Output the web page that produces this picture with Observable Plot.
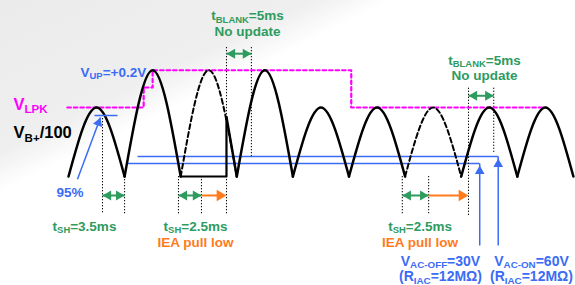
<!DOCTYPE html>
<html><head><meta charset="utf-8">
<script src="https://cdn.jsdelivr.net/npm/d3@7"></script>
<script src="https://cdn.jsdelivr.net/npm/@observablehq/plot@0.6"></script>
<style>
html,body{margin:0;padding:0;background:#fff;}
#chart{width:575px;height:285px;}
</style></head><body><div id="chart"></div>
<script>
// ---------------- data (time in ms, level relative to the low-line peak) ----------------
const halfCycleMs = 10;
const archPeak = [1.00, 1.54, 1.54, 1.54, 1.00, 1.00, 1.00, 1.00, 1.00]; // rectified half cycles of V_B+/100
const maskedArch = [2, 6];                      // half cycles hidden by IEA pull-low (dashed)
const clampTime = [20, 28.16, 28.16];           // pulled-low waveform
const clampLevel = [0, 0, 0.86];
const releaseTime = [28.16, 30];
const releaseLevel = [0.86, 0];
const vlpkTime = [-0.2, 13.4, 15.0, 50.4, 85.0]; // V_LPK staircase
const vlpkLevel = [1.00, 1.29, 1.54, 1.00, 1.00];
const sampleTime = [6.06];                      // 95 % sample point
const sampleLevel = [0.884];
const tsh35 = [6.06, 10.0];
const tsh25a = [19.6, 23.7];
const pullLowA = [23.7, 28.16];
const blankA = [28.16, 32.6];
const tsh25b = [59.5, 64.2];
const pullLowB = [64.2, 71.3];
const blankB = [71.3, 75.8];
const vacName = ["AC-OFF", "AC-ON"];
const vacVolts = [30, 60];
const vacLevel = [0.188, 0.29];
const vacStart = [10.5, 12.3];
const vacEnd = [73.3, 76.6];

// ---------------- styling ----------------
const GREEN = "#2e9b5f", ORANGE = "#ff7b1c", BLUE = "#3b6cf5", MAGENTA = "#ff00ff";
const FONT = "'Liberation Sans', Arial, sans-serif";
const PXMS = 5.61, PXV = 69; // pixels per ms / per level unit
const X0 = -68 / PXMS, X1 = (575 - 68) / PXMS;
const Y0 = (176 - 285) / PXV, Y1 = 176 / PXV;

const archPts = archPeak.flatMap((p, i) => [0, 0.5, 1].map(f => ({
  t: (i + f) * halfCycleMs, v: f === 0.5 ? p : 0, arch: i, masked: maskedArch.includes(i)
})));

const vLine = (ts, top, bottom) => Plot.ruleX(ts, {x: d => d, y1: top, y2: bottom,
  stroke: "#000", strokeWidth: 1, strokeDasharray: "1.3,1.7"});

function head(t, v, color, r, rotate, dx = 0, dy = 0) {
  return Plot.dot([t], {x: d => d, y: v, symbol: "triangle", r, fill: color, stroke: "none", rotate, dx, dy});
}
function doubleArrow([a, b], v, color) {
  const r = 3.7, off = 1.555 * r;
  return [
    Plot.link([0], {x1: a, x2: b, y1: v, y2: v, stroke: color, strokeWidth: 2}),
    head(a, v, color, r, -90, off, 0),
    head(b, v, color, r, 90, -off, 0)
  ];
}
function oneArrow([a, b], v, color) {
  const r = 4.2, off = 1.555 * r;
  return [
    Plot.link([0], {x1: a, x2: b - 1, y1: v, y2: v, stroke: color, strokeWidth: 2}),
    head(b, v, color, r, 90, -off, 0)
  ];
}
function label(str, t, v, color, size = 13.5, anchor = "middle") {
  return Plot.text([str], {x: t, y: v, text: d => d, fill: color, fontSize: size, fontWeight: "bold",
    fontFamily: FONT, textAnchor: anchor, lineAnchor: "bottom"});
}

// diagonal 95 % arrow
const diagFrom = [1.6, -0.04], diagTo = [5.7, 0.855];
const diagRot = Math.atan2((diagTo[0] - diagFrom[0]) * PXMS, (diagTo[1] - diagFrom[1]) * PXV) * 180 / Math.PI;
const diagR = 3.6;
const diagLen = Math.hypot((diagTo[0] - diagFrom[0]) * PXMS, (diagTo[1] - diagFrom[1]) * PXV);
const diagDx = -1.555 * diagR * (diagTo[0] - diagFrom[0]) * PXMS / diagLen;
const diagDy = 1.555 * diagR * (diagTo[1] - diagFrom[1]) * PXV / diagLen;

const plot = Plot.plot({
  width: 575, height: 285, margin: 0,
  x: {domain: [X0, X1], axis: null},
  y: {domain: [Y0, Y1], axis: null},
  style: {background: "transparent", overflow: "visible"},
  marks: [
    // V_AC on/off thresholds
    Plot.link(vacLevel, {x1: (d, i) => vacStart[i], x2: (d, i) => vacEnd[i], y1: d => d, y2: d => d, stroke: BLUE, strokeWidth: 1.5}),
    Plot.link(vacLevel, {x1: (d, i) => vacEnd[i], x2: (d, i) => vacEnd[i], y1: -1.0, y2: d => d, stroke: BLUE, strokeWidth: 1.5}),
    Plot.dot(vacLevel, {x: (d, i) => vacEnd[i], y: d => d, symbol: "triangle", r: 3.6, fill: BLUE, dy: 1.555 * 3.6 + 2}),
    // dotted timing lines
    vLine([tsh35[0]], 0.84, -0.54),
    vLine([tsh35[1], tsh25a[0], tsh25a[1], tsh25b[0], tsh25b[1]], 0, -0.54),
    vLine([blankA[0]], 1.87, -0.54),
    vLine([blankA[1]], 1.87, 0.29),
    vLine([blankB[0]], 1.28, -0.57),
    vLine([blankB[1]], 1.28, 0.33),
    // V_LPK
    Plot.line(vlpkTime.map((t, i) => ({t, v: vlpkLevel[i]})), {x: "t", y: "v", curve: "step-after",
      stroke: MAGENTA, strokeWidth: 2.2, strokeDasharray: "3.5,3"}),
    // waveform
    Plot.line(archPts.filter(d => !d.masked), {x: "t", y: "v", z: "arch", curve: "natural", stroke: "#000", strokeWidth: 2.5}),
    Plot.line(archPts.filter(d => d.masked), {x: "t", y: "v", z: "arch", curve: "natural", stroke: "#000", strokeWidth: 2, strokeDasharray: "5,3"}),
    Plot.line(clampTime.map((t, i) => ({t, v: clampLevel[i]})), {x: "t", y: "v", stroke: "#000", strokeWidth: 2.2}),
    Plot.line(releaseTime.map((t, i) => ({t, v: releaseLevel[i]})), {x: "t", y: "v", stroke: "#000", strokeWidth: 2.5}),
    // arrows
    doubleArrow(tsh35, -0.275, GREEN),
    doubleArrow(tsh25a, -0.275, GREEN), oneArrow(pullLowA, -0.275, ORANGE),
    doubleArrow(tsh25b, -0.275, GREEN), oneArrow(pullLowB, -0.275, ORANGE),
    doubleArrow(blankA, 1.78, GREEN), doubleArrow(blankB, 1.17, GREEN),
    // 95 % sample
    Plot.link(sampleLevel, {x1: 4.63, x2: 8.73, y1: d => d, y2: d => d, stroke: BLUE, strokeWidth: 1.5}),
    Plot.link([0], {x1: diagFrom[0], y1: diagFrom[1], x2: diagTo[0], y2: diagTo[1], stroke: BLUE, strokeWidth: 1.5}),
    head(diagTo[0], diagTo[1], BLUE, diagR, diagRot, diagDx, diagDy),
    // labels
    label("t_{BLANK}=5ms", 31.91, 2.261, GREEN),
    label("No update", 31.91, 2.033, GREEN),
    label("t_{BLANK}=5ms", 74.15, 1.623, GREEN),
    label("No update", 74.15, 1.396, GREEN),
    label("V_{UP}=+0.2V", 2.14, 1.449, BLUE, 13.5, "start"),
    label("V_{LPK}", -9.8, 0.971, MAGENTA, 16.5, "start"),
    label("V_{B+}/100", -9.8, 0.551, "#000", 16.5, "start"),
    label(`${Math.round(95)}%`, -2.14, -0.304, BLUE, 13.5, "start"),
    label("t_{SH}=3.5ms", 2.85, -0.783, GREEN),
    label("t_{SH}=2.5ms", 22.64, -0.783, GREEN),
    label("IEA pull low", 22.64, -1.022, ORANGE),
    label("t_{SH}=2.5ms", 62.66, -0.783, GREEN),
    label("IEA pull low", 62.66, -1.022, ORANGE),
    label(`V_{${vacName[0]}}=${vacVolts[0]}V`, 66.31, -1.29, BLUE, 14),
    label("(R_{IAC}=12MΩ)", 66.31, -1.515, BLUE, 14),
    label(`V_{${vacName[1]}}=${vacVolts[1]}V`, 82.53, -1.29, BLUE, 14),
    label("(R_{IAC}=12MΩ)", 82.53, -1.515, BLUE, 14)
  ]
});

// subscripts -> tspans
plot.querySelectorAll("text").forEach(el => {
  const s = el.textContent;
  if (!s.includes("_{")) return;
  const holder = el.closest("[font-size]");
  const fs = parseFloat(holder ? holder.getAttribute("font-size") : 13.5);
  const shift = 0.2 * fs;
  el.textContent = "";
  const re = /_\{([^}]*)\}/g;
  let last = 0, m, shifted = false;
  const add = (txt, sub) => {
    if (!txt) return;
    const ts = document.createElementNS("http://www.w3.org/2000/svg", "tspan");
    ts.textContent = txt;
    if (sub) { ts.setAttribute("font-size", (0.7 * fs).toFixed(2)); if (!shifted) { ts.setAttribute("dy", shift); shifted = true; } }
    else if (shifted) { ts.setAttribute("dy", -shift); shifted = false; }
    el.appendChild(ts);
  };
  while ((m = re.exec(s))) { add(s.slice(last, m.index), false); add(m[1], true); last = re.lastIndex; }
  add(s.slice(last), false);
});

plot.style.background = "linear-gradient(154deg, #ebebeb 0%, #efefef 27%, #ffffff 34%)";
document.getElementById("chart").appendChild(plot);
</script>
</body></html>
